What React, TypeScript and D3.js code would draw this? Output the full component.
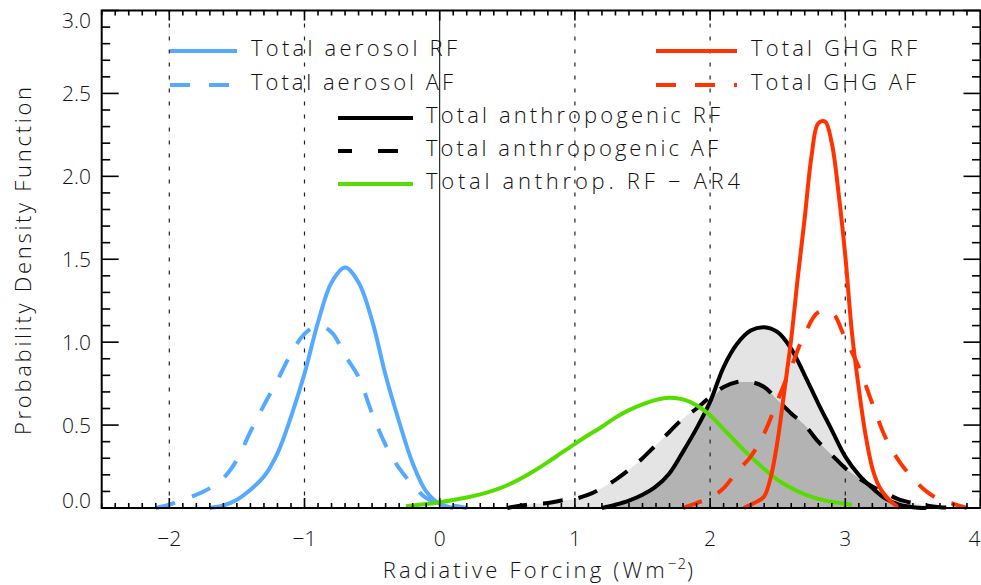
import React from 'react';
import * as d3 from 'd3';

type P = [number, number];

const xTicks = [-2, -1, 0, 1, 2, 3, 4];
const xTickLabels = ['−2', '−1', '0', '1', '2', '3', '4'];
const yTicks = [0, 0.5, 1, 1.5, 2, 2.5, 3];
const yTickLabels = ['0.0', '0.5', '1.0', '1.5', '2.0', '2.5', '3.0'];
const refLines = [-2, -1, 1, 2, 3];

const aerosolRF: P[] = [
  [-1.7, 0.0], [-1.6, 0.015], [-1.5, 0.05], [-1.4, 0.11], [-1.3, 0.19], [-1.2, 0.33],
  [-1.1, 0.55], [-1.0, 0.81], [-0.9, 1.12], [-0.8, 1.36], [-0.7, 1.45], [-0.6, 1.36],
  [-0.5, 1.13], [-0.4, 0.8], [-0.3, 0.52], [-0.2, 0.27], [-0.1, 0.1], [0.0, 0.025], [0.1, 0.0],
];
const aerosolAF: P[] = [
  [-2.1, 0.0], [-2.0, 0.02], [-1.9, 0.05], [-1.8, 0.08], [-1.7, 0.12], [-1.6, 0.18],
  [-1.5, 0.29], [-1.4, 0.46], [-1.3, 0.62], [-1.2, 0.77], [-1.1, 0.93], [-1.0, 1.05],
  [-0.9, 1.1], [-0.8, 1.06], [-0.7, 0.92], [-0.6, 0.79], [-0.5, 0.57], [-0.4, 0.38],
  [-0.3, 0.24], [-0.2, 0.14], [-0.1, 0.06], [0.0, 0.03], [0.1, 0.015], [0.2, 0.0],
];
const anthroRF: P[] = [
  [1.2, 0.0], [1.3, 0.02], [1.4, 0.045], [1.5, 0.08], [1.6, 0.13], [1.7, 0.21], [1.8, 0.34],
  [1.9, 0.48], [2.0, 0.64], [2.1, 0.85], [2.2, 0.99], [2.3, 1.07], [2.4, 1.09], [2.5, 1.06],
  [2.6, 0.96], [2.7, 0.8], [2.8, 0.63], [2.9, 0.47], [3.0, 0.31], [3.1, 0.2], [3.2, 0.12],
  [3.3, 0.055], [3.4, 0.02], [3.5, 0.005], [3.6, 0.0],
];
const anthroAF: P[] = [
  [0.5, 0.0], [0.6, 0.015], [0.7, 0.025], [0.8, 0.03], [0.9, 0.045], [1.0, 0.055], [1.1, 0.08],
  [1.2, 0.12], [1.3, 0.17], [1.4, 0.23], [1.5, 0.3], [1.6, 0.38], [1.7, 0.46], [1.8, 0.54],
  [1.9, 0.6], [2.0, 0.67], [2.1, 0.73], [2.2, 0.76], [2.3, 0.76], [2.4, 0.73], [2.5, 0.65],
  [2.6, 0.57], [2.7, 0.5], [2.8, 0.4], [2.9, 0.32], [3.0, 0.24], [3.1, 0.18], [3.2, 0.13],
  [3.3, 0.09], [3.4, 0.05], [3.5, 0.03], [3.6, 0.015], [3.7, 0.005], [3.8, 0.0],
];
const ghgRF: P[] = [
  [2.25, 0.0], [2.3, 0.02], [2.35, 0.04], [2.4, 0.07], [2.45, 0.19], [2.5, 0.41], [2.55, 0.71],
  [2.6, 1.02], [2.65, 1.4], [2.7, 1.75], [2.75, 2.12], [2.8, 2.32], [2.85, 2.33], [2.9, 2.2],
  [2.95, 1.9], [3.0, 1.52], [3.05, 1.05], [3.1, 0.72], [3.15, 0.44], [3.2, 0.24], [3.25, 0.13],
  [3.3, 0.07], [3.35, 0.03], [3.4, 0.0],
];
const ghgAF: P[] = [
  [1.8, 0.0], [1.9, 0.03], [2.0, 0.06], [2.1, 0.12], [2.2, 0.22], [2.3, 0.31], [2.4, 0.45],
  [2.5, 0.65], [2.6, 0.85], [2.7, 1.05], [2.8, 1.18], [2.9, 1.18], [3.0, 1.02], [3.1, 0.85],
  [3.2, 0.63], [3.3, 0.42], [3.4, 0.28], [3.5, 0.18], [3.6, 0.1], [3.7, 0.05], [3.8, 0.025], [3.9, 0.0],
];
const ar4RF: P[] = [
  [-0.25, 0.01], [-0.1, 0.024], [0.0, 0.035], [0.1, 0.048], [0.2, 0.063], [0.3, 0.082], [0.4, 0.106],
  [0.5, 0.137], [0.6, 0.178], [0.7, 0.225], [0.8, 0.277], [0.9, 0.332], [1.0, 0.387], [1.1, 0.44],
  [1.2, 0.49], [1.3, 0.545], [1.4, 0.59], [1.5, 0.625], [1.6, 0.652], [1.7, 0.665], [1.8, 0.655],
  [1.9, 0.62], [2.0, 0.56], [2.1, 0.475], [2.2, 0.39], [2.3, 0.31], [2.4, 0.235], [2.5, 0.17],
  [2.6, 0.12], [2.7, 0.082], [2.8, 0.055], [2.9, 0.037], [3.0, 0.025], [3.05, 0.02],
];

const BLUE = '#55AAFF';
const RED = '#FF3300';
const GREEN = '#55DD00';
const BLACK = '#000000';
const LIGHT = '#E4E4E4';
const DARK = '#B3B3B3';

const FONT = "'Open Sans', 'DejaVu Sans', sans-serif";

const W = 981;
const H = 585;
const LEFT = 101.7;
const RIGHT = 980.5;
const TOP = 10.5;
const BOTTOM = 508;

export default function App() {
  const x = d3.scaleLinear().domain([-2.5, 4]).range([LEFT, RIGHT]);
  const y = d3.scaleLinear().domain([0, 3]).range([BOTTOM, TOP]);
  const curve = d3.curveCatmullRom.alpha(0.5);
  const line = d3
    .line<P>()
    .x((d) => x(d[0]))
    .y((d) => Math.min(BOTTOM, y(d[1])))
    .curve(curve);
  const area = d3
    .area<P>()
    .x((d) => x(d[0]))
    .y0(y(0))
    .y1((d) => y(d[1]))
    .curve(d3.curveMonotoneX);

  const rfAt = (xv: number) => {
    const f = anthroRF.find((p) => Math.abs(p[0] - xv) < 1e-6);
    return f ? f[1] : 0;
  };
  const upper: P[] = anthroAF.map(([xv, v]) => [xv, Math.max(v, rfAt(xv))]);
  const lower: P[] = anthroAF.map(([xv, v]) => [xv, Math.min(v, rfAt(xv))]);

  const xMinor = d3.range(-25, 41).map((i) => i / 10);
  const yMinor = d3.range(0, 31).map((i) => i / 10);
  const isMajorX = (v: number) => Math.abs(v - Math.round(v)) < 1e-6;
  const isMajorY = (v: number) => Math.abs(v * 2 - Math.round(v * 2)) < 1e-6;

  const curveW = 4;

  const legend = [
    { label: 'Total aerosol RF', color: BLUE, dash: null, x1: 170, x2: 237, ly: 51, tx: 251, tl: 206 },
    { label: 'Total aerosol AF', color: BLUE, dash: '20 19', x1: 170, x2: 237, ly: 85, tx: 251, tl: 202 },
    { label: 'Total GHG RF', color: RED, dash: null, x1: 656, x2: 737, ly: 51, tx: 751, tl: 166 },
    { label: 'Total GHG AF', color: RED, dash: '20 19', x1: 656, x2: 737, ly: 85, tx: 751, tl: 165 },
    { label: 'Total anthropogenic RF', color: BLACK, dash: null, x1: 338, x2: 413, ly: 118, tx: 426, tl: 294 },
    { label: 'Total anthropogenic AF', color: BLACK, dash: '14 26 20 40', x1: 338, x2: 413, ly: 151, tx: 426, tl: 292 },
    { label: 'Total anthrop. RF − AR4', color: GREEN, dash: null, x1: 338, x2: 413, ly: 184, tx: 426, tl: 314 },
  ];

  return (
    <svg
      width={W}
      height={H}
      viewBox={`0 0 ${W} ${H}`}
      style={{ position: 'absolute', left: 0, top: 0, background: '#fff' }}
      fontFamily={FONT}
    >
      <rect x={0} y={0} width={W} height={H} fill="#fff" />
      <path d={area(upper) || ''} fill={LIGHT} />
      <path d={area(lower) || ''} fill={DARK} />

      {refLines.map((v) => (
        <line
          key={v}
          x1={x(v)}
          x2={x(v)}
          y1={TOP}
          y2={BOTTOM}
          stroke="#222"
          strokeWidth={1.2}
          strokeDasharray="4 9"
        />
      ))}
      <line x1={x(0)} x2={x(0)} y1={TOP} y2={BOTTOM} stroke="#000" strokeWidth={1} />

      <path d={line(aerosolAF) || ''} fill="none" stroke={BLUE} strokeWidth={curveW} strokeDasharray="20 18" />
      <path d={line(aerosolRF) || ''} fill="none" stroke={BLUE} strokeWidth={curveW} />
      <path d={line(anthroRF) || ''} fill="none" stroke={BLACK} strokeWidth={curveW} />
      <path d={line(anthroAF) || ''} fill="none" stroke={BLACK} strokeWidth={curveW} strokeDasharray="20 16" />
      <path d={line(ar4RF) || ''} fill="none" stroke={GREEN} strokeWidth={curveW} />
      <path d={line(ghgAF) || ''} fill="none" stroke={RED} strokeWidth={curveW} strokeDasharray="20 18" />
      <path d={line(ghgRF) || ''} fill="none" stroke={RED} strokeWidth={curveW} />

      <rect x={LEFT} y={TOP} width={RIGHT - LEFT} height={BOTTOM - TOP} fill="none" stroke="#000" strokeWidth={2} />

      {xMinor.map((v) => {
        const len = isMajorX(v) ? 10 : 5;
        return (
          <g key={'xt' + v}>
            <line x1={x(v)} x2={x(v)} y1={BOTTOM} y2={BOTTOM - len} stroke="#000" strokeWidth={1.6} />
            <line x1={x(v)} x2={x(v)} y1={TOP} y2={TOP + len} stroke="#000" strokeWidth={1.6} />
          </g>
        );
      })}
      {yMinor.map((v) => {
        const len = isMajorY(v) ? 17 : 8.5;
        return (
          <g key={'yt' + v}>
            <line x1={LEFT} x2={LEFT + len} y1={y(v)} y2={y(v)} stroke="#000" strokeWidth={1.6} />
            <line x1={RIGHT} x2={RIGHT - len} y1={y(v)} y2={y(v)} stroke="#000" strokeWidth={1.6} />
          </g>
        );
      })}

      {xTicks.map((v, i) => {
        const last = i === xTicks.length - 1;
        return (
          <text
            key={'xl' + v}
            x={last ? W - 0.5 : x(v)}
            y={545.5}
            textAnchor={last ? 'end' : 'middle'}
            fontSize={21}
            fontWeight={300}
            fill="#111"
          >
            {xTickLabels[i]}
          </text>
        );
      })}
      {yTicks.map((v, i) => {
        let by = y(v) + 7.5;
        if (i === 0) by = BOTTOM;
        if (i === yTicks.length - 1) by = 28.3;
        return (
          <text key={'yl' + v} x={91} y={by} textAnchor="end" fontSize={21} fontWeight={300} fill="#111">
            {yTickLabels[i]}
          </text>
        );
      })}

      <text x={539.5} y={578} textAnchor="middle" fontSize={22} fontWeight={300} fill="#111" letterSpacing={3.2}>
        Radiative Forcing (Wm
        <tspan dy={-9} fontSize={15} letterSpacing={1}>−2</tspan>
        <tspan dy={9}>)</tspan>
      </text>
      <text
        transform={`translate(31,261) rotate(-90)`}
        textAnchor="middle"
        fontSize={22}
        fontWeight={300}
        fill="#111"
        textLength={348}
        lengthAdjust="spacing"
      >
        Probability Density Function
      </text>

      {legend.map((l) => (
        <g key={l.label}>
          <line
            x1={l.x1}
            x2={l.x2}
            y1={l.ly}
            y2={l.ly}
            stroke={l.color}
            strokeWidth={4}
            strokeDasharray={l.dash || undefined}
          />
          <text
            x={l.tx}
            y={l.ly + 5}
            fontSize={22}
            fontWeight={300}
            fill="#111"
            textLength={l.tl}
            lengthAdjust="spacing"
          >
            {l.label}
          </text>
        </g>
      ))}
    </svg>
  );
}
